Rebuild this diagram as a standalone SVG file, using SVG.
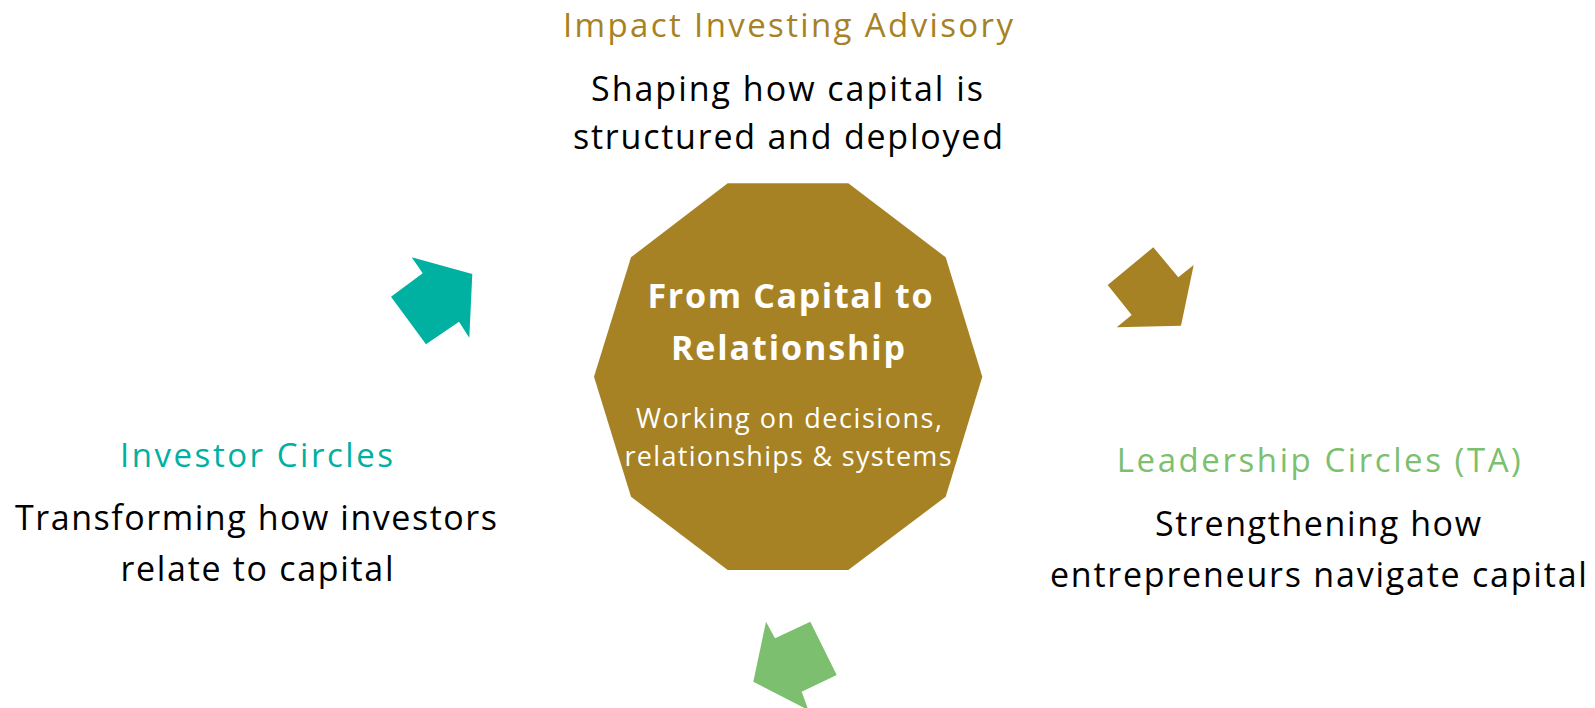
<svg xmlns="http://www.w3.org/2000/svg" width="1595" height="708" viewBox="0 0 1595 708">
<style>
text{font-family:"Open Sans","Noto Sans","Liberation Sans",sans-serif;text-anchor:middle}
.title{font-size:33px}
.body{font-size:34px;fill:#000}
.gold{fill:#A68224}
.teal{fill:#00B0A1}
.green{fill:#7BBF6F}
.hub{font-size:34px;font-weight:bold;fill:#fff}
.sub{font-size:27px;fill:#fff}
</style>
<rect width="1595" height="708" fill="#fff"/>
<g id="center">
<polygon class="gold" points="727.7,183.3 848.3,183.3 945.7,257.3 982.3,376.7 945.7,496.7 848.3,570 727.7,570 631,496.7 594,376.7 631,257.3"/>
<text class="hub" x="790" y="308" textLength="285" lengthAdjust="spacing">From Capital to</text>
<text class="hub" x="788" y="360" textLength="234" lengthAdjust="spacing">Relationship</text>
<text class="sub" x="789" y="428" textLength="306" lengthAdjust="spacing">Working on decisions,</text>
<text class="sub" x="788" y="466" textLength="327" lengthAdjust="spacing">relationships &amp; systems</text>
</g>
<g id="impact">
<text class="title gold" x="788" y="37" textLength="450" lengthAdjust="spacing">Impact Investing Advisory</text>
<text class="body" x="787" y="101" textLength="392" lengthAdjust="spacing">Shaping how capital is</text>
<text class="body" x="788" y="149" textLength="430" lengthAdjust="spacing">structured and deployed</text>
</g>
<g id="investor">
<text class="title teal" x="256.5" y="467" textLength="273" lengthAdjust="spacing">Investor Circles</text>
<text class="body" x="256" y="530" textLength="482" lengthAdjust="spacing">Transforming how investors</text>
<text class="body" x="257" y="581" textLength="273" lengthAdjust="spacing">relate to capital</text>
</g>
<g id="leadership">
<text class="title green" x="1318.8" y="472" textLength="404" lengthAdjust="spacing">Leadership Circles (TA)</text>
<text class="body" x="1318" y="536" textLength="326" lengthAdjust="spacing">Strengthening how</text>
<text class="body" x="1318.4" y="587" textLength="537" lengthAdjust="spacing">entrepreneurs navigate capital</text>
</g>
<g id="connectors">
<polygon class="teal" points="411.7,257.3 472.3,274 469.3,337.7 459,321.7 426,344.3 391,296.7 422.7,273.3"/>
<polygon class="gold" points="1153.3,247.3 1178.3,277.3 1193.7,265 1181,325.7 1116.7,327.3 1131.7,315 1107.7,285"/>
<polygon class="green" points="766,621.7 775,638.3 810.3,621.7 836.7,675 801.7,691.7 808.3,710 753.3,681.7"/>
</g>
</svg>
